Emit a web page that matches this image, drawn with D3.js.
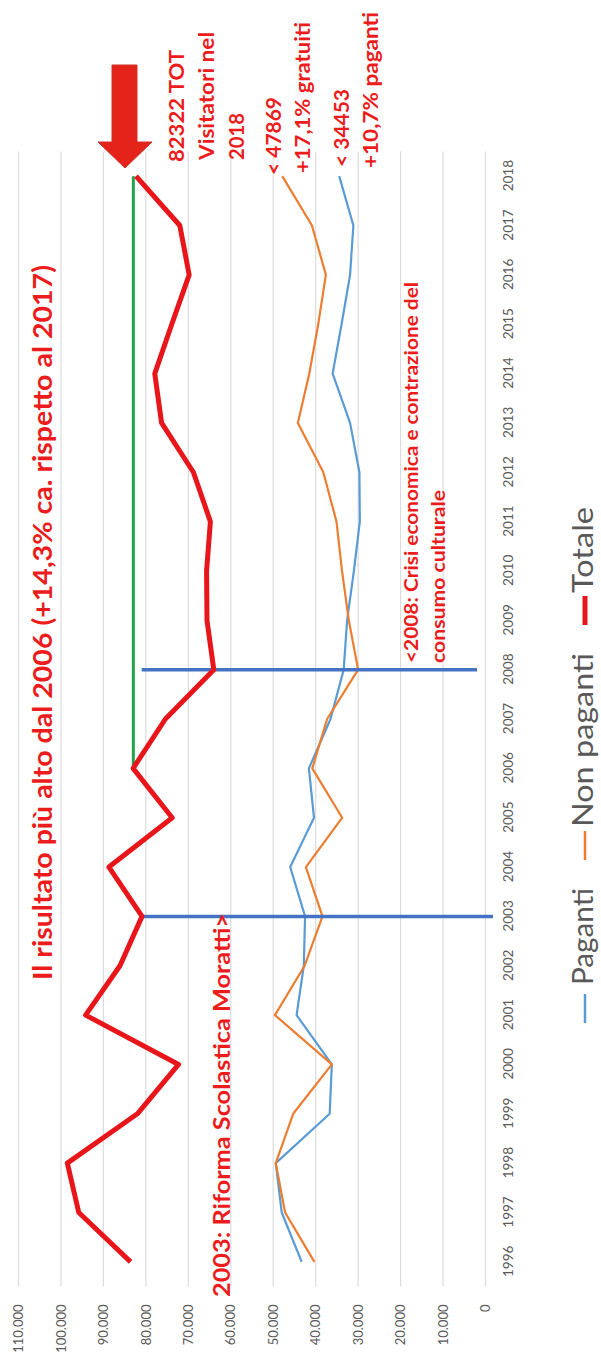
<!DOCTYPE html>
<html>
<head>
<meta charset="utf-8">
<script src="https://cdn.jsdelivr.net/npm/d3@7"></script>
<style>
  body { margin: 0; background: #fff; }
  svg { display: block; }
  text { font-family: Lato, "Open Sans", sans-serif; }
</style>
</head>
<body>
<svg id="chart"></svg>
<script>
// Visitatori per anno
var years = [1996, 1997, 1998, 1999, 2000, 2001, 2002, 2003, 2004, 2005, 2006, 2007,
             2008, 2009, 2010, 2011, 2012, 2013, 2014, 2015, 2016, 2017, 2018];
var paganti = [43300, 48000, 49400, 36700, 36200, 44500, 42800, 42500, 46000, 40400, 41600, 36500,
               33400, 32600, 31000, 29600, 29700, 31900, 36000, 33900, 31900, 31120, 34453];
var nonPaganti = [40300, 47200, 49400, 45300, 36200, 49600, 42600, 38400, 42300, 33750, 40800, 37300,
                  30000, 32200, 33800, 35100, 38200, 44200, 41500, 39400, 37600, 40880, 47869];
var totale = [83600, 95800, 98500, 82000, 72300, 94200, 86100, 80900, 88700, 73800, 83000, 75400,
              64000, 65600, 65700, 64800, 68800, 76300, 77900, 73900, 69800, 72000, 82322];
var yTicks = [0, 10000, 20000, 30000, 40000, 50000, 60000, 70000, 80000, 90000, 100000, 110000];
var seriesNames = ["Paganti", "Non paganti", "Totale"];

var W = 1358, H = 601;   // chart drawn lying on its side
var red = "#ec1c1c";

var svg = d3.select("#chart").attr("width", H).attr("height", W);
var g = svg.append("g").attr("transform", "translate(0," + W + ") rotate(-90)");

var x = d3.scalePoint().domain(years).range([71.5, 1206.5]).padding(0.5);
var y = d3.scaleLinear().domain([0, 110000]).range([485.5, 18.5]);

var it = d3.formatLocale({decimal: ",", thousands: ".", grouping: [3], currency: ["", "€"]});
var fmt = it.format(",d");

// grid
g.selectAll(".grid").data(yTicks).enter().append("line")
    .attr("x1", 71.5).attr("x2", 1206.5)
    .attr("y1", function (d) { return y(d); })
    .attr("y2", function (d) { return y(d); })
    .attr("stroke", "#dcdcdc").attr("stroke-width", 1.2);

// axes
var gy = g.append("g").attr("transform", "translate(71.5,0)")
    .call(d3.axisLeft(y).tickValues(yTicks).tickSize(0).tickPadding(18).tickFormat(fmt));
gy.select(".domain").remove();
gy.selectAll("text").attr("fill", "#595959").style("font-size", "13px").style("font-family", "Lato");

var gx = g.append("g").attr("transform", "translate(0," + y(0) + ")")
    .call(d3.axisBottom(x).tickSize(0).tickPadding(18));
gx.select(".domain").remove();
gx.selectAll("text").attr("fill", "#595959").style("font-size", "13.5px").style("font-family", "Lato");

// 2006 -> 2018 reference
g.append("line")
    .attr("x1", x(2006)).attr("x2", x(2018))
    .attr("y1", y(82950)).attr("y2", y(82950))
    .attr("stroke", "#22a24a").attr("stroke-width", 3);

function series(vals) {
  return vals.map(function (v, i) { return {year: years[i], value: v}; });
}
var line = d3.line()
    .x(function (d) { return x(d.year); })
    .y(function (d) { return y(d.value); });

g.append("path").datum(series(paganti))
    .attr("d", line).attr("fill", "none")
    .attr("stroke", "#5b9bd5").attr("stroke-width", 2.2).attr("stroke-linejoin", "round");
g.append("path").datum(series(nonPaganti))
    .attr("d", line).attr("fill", "none")
    .attr("stroke", "#ed7d31").attr("stroke-width", 2.2).attr("stroke-linejoin", "round");

// event markers
g.append("line")
    .attr("x1", x(2003)).attr("x2", x(2003))
    .attr("y1", y(81000)).attr("y2", y(-1770))
    .attr("stroke", "#4472c4").attr("stroke-width", 3.5);
g.append("line")
    .attr("x1", x(2008)).attr("x2", x(2008))
    .attr("y1", y(81000)).attr("y2", y(2000))
    .attr("stroke", "#4472c4").attr("stroke-width", 3.5);

g.append("path").datum(series(totale))
    .attr("d", line).attr("fill", "none")
    .attr("stroke", "#e8161a").attr("stroke-width", 5).attr("stroke-linejoin", "round");

// arrow
g.append("path")
    .attr("d", "M1190,125 L1216,98 L1216,112 L1293,112 L1293,137 L1216,137 L1216,152 Z")
    .attr("fill", "#e4231b").attr("stroke", "#d0302a").attr("stroke-width", 1);

// annotations
function note(txt, x0, base, size, len) {
  g.append("text")
      .attr("x", x0).attr("y", base)
      .attr("fill", red).attr("font-weight", "bold")
      .style("font-size", size + "px")
      .attr("textLength", len).attr("lengthAdjust", "spacingAndGlyphs")
      .text(txt);
}
note("Il risultato più alto dal 2006 (+14,3% ca. rispetto al 2017)", 378, 52, 27, 715);
note("2003: Riforma Scolastica Moratti>", 61, 230, 22, 384);
note("<2008: Crisi economica e contrazione del", 695, 418, 19, 381);
note("consumo culturale", 695, 445, 19, 173);
note("82322  TOT", 1196, 184, 21, 112);
note("Visitatori nel", 1198, 214, 21, 128);
note("2018", 1198, 244, 21, 47);
note("< 47869", 1183, 281, 21, 78);
note("+17,1% gratuiti", 1185, 310, 21, 151);
note("< 34453", 1191, 349, 21, 78);
note("+10,7% paganti", 1190, 378, 21, 156);

// legend
var legend = [
  {name: seriesNames[0], color: "#5b9bd5", w: 2.5, mx: 335, tx: 373, len: 97},
  {name: seriesNames[1], color: "#ed7d31", w: 2.5, mx: 498, tx: 531, len: 174},
  {name: seriesNames[2], color: "#e8161a", w: 5, mx: 733, tx: 765, len: 86}
];
var lg = g.append("g");
lg.selectAll("line").data(legend).enter().append("line")
    .attr("x1", function (d) { return d.mx; })
    .attr("x2", function (d) { return d.mx + 29; })
    .attr("y1", 585).attr("y2", 585)
    .attr("stroke", function (d) { return d.color; })
    .attr("stroke-width", function (d) { return d.w; });
lg.selectAll("text").data(legend).enter().append("text")
    .attr("x", function (d) { return d.tx; })
    .attr("y", 593)
    .attr("fill", "#595959")
    .style("font-size", "28px")
    .attr("textLength", function (d) { return d.len; })
    .attr("lengthAdjust", "spacingAndGlyphs")
    .text(function (d) { return d.name; });
</script>
</body>
</html>
